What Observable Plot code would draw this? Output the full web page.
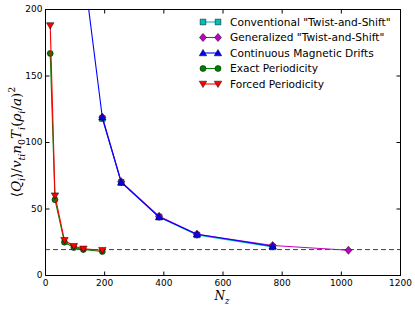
<!DOCTYPE html>
<html><head><meta charset="utf-8">
<script src="https://cdn.jsdelivr.net/npm/d3@7"></script>
<script src="https://cdn.jsdelivr.net/npm/@observablehq/plot@0.6"></script>
<style>body{margin:0;background:#fff}svg{display:block}</style>
</head><body><div id="chart"></div>
<script>
// ---- data ----
const seriesNames = ['Conventional "Twist-and-Shift"', 'Generalized "Twist-and-Shift"', 'Continuous Magnetic Drifts', 'Exact Periodicity', 'Forced Periodicity'];
const seriesColors = ["#00bfbf", "#bf00bf", "#0000ff", "#008000", "#ff0000"];
const convX = [192, 256, 384, 512, 768];
const convY = [118, 70, 44, 30.5, 21.5];
const genX = [192, 256, 384, 512, 768, 1024];
const genY = [119, 70.5, 44.5, 31, 22.5, 19];
const contX = [128, 192, 256, 384, 512, 768];
const contY = [232, 119, 70, 44, 31, 22];
const exactX = [16, 32, 64, 96, 128, 192];
const exactY = [167, 57, 25, 21, 19.5, 18];
const forcedX = [16, 32, 64, 96, 128, 192];
const forcedY = [188, 60, 26.5, 22, 20, 19];
const referenceLevel = 19.5;
const xTicks = [0, 200, 400, 600, 800, 1000, 1200];
const yTicks = [0, 50, 100, 150, 200];

const toRows = (X, Y) => X.map((x, i) => ({x, y: Y[i]}));

// custom symbols
const triDown = {draw(c, size) { const r = Math.sqrt(size) * 0.62; c.moveTo(-r, -r * 0.75); c.lineTo(r, -r * 0.75); c.lineTo(0, r * 0.95); c.closePath(); }};
const triUp = {draw(c, size) { const r = Math.sqrt(size) * 0.62; c.moveTo(-r, r * 0.75); c.lineTo(r, r * 0.75); c.lineTo(0, -r * 0.95); c.closePath(); }};
const diamond = {draw(c, size) { const r = Math.sqrt(size) * 0.68; c.moveTo(0, -r); c.lineTo(r * 0.85, 0); c.lineTo(0, r); c.lineTo(-r * 0.85, 0); c.closePath(); }};
const square = {draw(c, size) { const r = Math.sqrt(size) * 0.5; c.rect(-r, -r, 2 * r, 2 * r); }};
const tickUp = {draw(c) { c.moveTo(0, 0); c.lineTo(0, -4); }};
const tickDown = {draw(c) { c.moveTo(0, 0); c.lineTo(0, 4); }};
const tickRight = {draw(c) { c.moveTo(0, 0); c.lineTo(4, 0); }};
const tickLeft = {draw(c) { c.moveTo(0, 0); c.lineTo(-4, 0); }};

const series = [
  {rows: toRows(convX, convY), symbol: square, r: 3.2},
  {rows: toRows(genX, genY), symbol: diamond, r: 3.4},
  {rows: toRows(contX, contY), symbol: triUp, r: 3.4},
  {rows: toRows(exactX, exactY), symbol: "circle", r: 3},
  {rows: toRows(forcedX, forcedY), symbol: triDown, r: 3.4}
];

const marks = [
  Plot.ruleY([referenceLevel], {stroke: "#444", strokeWidth: 1, strokeDasharray: "5,3"})
];
series.forEach((s, i) => {
  marks.push(Plot.line(s.rows, {x: "x", y: "y", stroke: seriesColors[i], strokeWidth: 1.1, clip: true}));
  marks.push(Plot.dot(s.rows, {x: "x", y: "y", symbol: s.symbol, r: s.r, fill: seriesColors[i], stroke: "#000", strokeWidth: 0.5, clip: true}));
});
marks.push(
  Plot.dot(xTicks, {x: d => d, frameAnchor: "bottom", symbol: tickUp, fill: "none", stroke: "#000", strokeWidth: 1}),
  Plot.dot(xTicks, {x: d => d, frameAnchor: "top", symbol: tickDown, fill: "none", stroke: "#000", strokeWidth: 1}),
  Plot.dot(yTicks, {y: d => d, frameAnchor: "left", symbol: tickRight, fill: "none", stroke: "#000", strokeWidth: 1}),
  Plot.dot(yTicks, {y: d => d, frameAnchor: "right", symbol: tickLeft, fill: "none", stroke: "#000", strokeWidth: 1}),
  Plot.axisX(xTicks, {tickSize: 0, tickPadding: 4, label: null, fontSize: 9, fill: "#000", tickFormat: d => String(d)}),
  Plot.axisY(yTicks, {tickSize: 0, tickPadding: 3, label: null, fontSize: 9, fill: "#000", tickFormat: d => String(d)}),
  Plot.frame({stroke: "#000", strokeWidth: 1})
);

const svg = Plot.plot({
  width: 415, height: 309,
  marginLeft: 45, marginRight: 15, marginTop: 9, marginBottom: 34,
  style: {fontFamily: "DejaVu Sans", fontSize: "9px", background: "#fff", color: "#000"},
  x: {domain: [0, 1200]},
  y: {domain: [0, 200]},
  marks
});
document.getElementById("chart").appendChild(svg);

// ---- legend ----
const sel = d3.select(svg);
const leg = sel.append("g").attr("font-family", "DejaVu Sans").attr("font-size", 10.6).attr("text-anchor", "start");
series.forEach((s, i) => {
  const y = 22 + i * 15.5;
  const g = leg.append("g").attr("transform", `translate(0,${y})`);
  g.append("line").attr("x1", 203).attr("x2", 218).attr("y1", 0).attr("y2", 0).attr("stroke", seriesColors[i]).attr("stroke-width", 1.1);
  [203, 218].forEach(x => {
    g.append("path").attr("transform", `translate(${x},0)`)
      .attr("d", (s.symbol === "circle" ? d3.symbol(d3.symbolCircle, Math.PI * s.r * s.r) : d3.symbol(s.symbol, Math.PI * s.r * s.r))())
      .attr("fill", seriesColors[i]).attr("stroke", "#000").attr("stroke-width", 0.5);
  });
  g.append("text").attr("x", 230).attr("y", 0).attr("dy", "0.35em").attr("fill", "#000").attr("text-anchor", "start").text(seriesNames[i]);
});

// ---- axis labels with math styling ----
function mathText(parent, parts, size) {
  const t = parent.append("text").attr("font-family", "DejaVu Serif").attr("font-size", size).attr("fill", "#000");
  let shift = 0;
  parts.forEach(([txt, style]) => {
    let target = 0, fs = size, italic = false;
    if (style.includes("i")) italic = true;
    if (style.includes("sub")) { target = size * 0.3; fs = size * 0.7; }
    if (style.includes("sup")) { target = -size * 0.45; fs = size * 0.7; }
    const ts = t.append("tspan").attr("font-size", fs).attr("dy", target - shift).text(txt);
    if (italic) ts.attr("font-style", "italic");
    shift = target;
  });
  return t;
}
const yLabelParts = [["⟨", "n"], ["Q", "i"], ["i", "i sub"], ["⟩", "n"], ["/", "n"], ["v", "i"], ["ti", "i sub"], ["n", "i"], ["0", "sub"], ["T", "i"], ["i", "i sub"], ["(", "n"], ["ρ", "i"], ["i", "i sub"], ["/", "n"], ["a", "i"], [")", "n"], ["2", "sup"]];
const yl = mathText(sel.append("g").attr("transform", "translate(21,142) rotate(-90)"), yLabelParts, 13.5);
yl.attr("text-anchor", "middle");
const xl = mathText(sel.append("g").attr("transform", "translate(222,300)"), [["N", "i"], ["z", "i sub"]], 12);
xl.attr("text-anchor", "middle");
</script>
</body></html>
